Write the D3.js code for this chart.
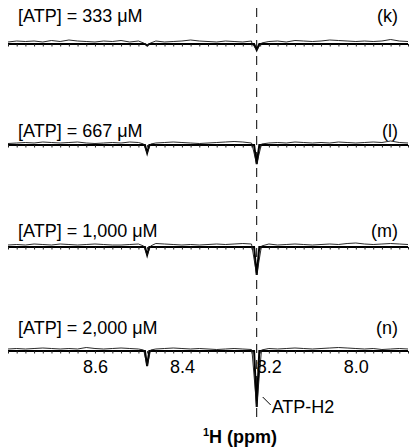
<!DOCTYPE html>
<html><head><meta charset="utf-8">
<script src="https://cdn.jsdelivr.net/npm/d3@7"></script>
<style>
body{margin:0;background:#fff}
svg{display:block}
text{font-family:"Liberation Sans",Arial,Helvetica,sans-serif;fill:#000}
</style>
</head><body>
<svg id="c" width="409" height="448"></svg>
<script>
// ---- data ----
const panelTags = ["(k)", "(l)", "(m)", "(n)"];
const concentrations = ["333", "667", "1,000", "2,000"];
const peakPpm = [8.48, 8.228];            // small peak, ATP-H2
const peakDepthK = [1.5, 6];
const peakDepthL = [8, 19];
const peakDepthM = [8, 28];
const peakDepthN = [15, 56];
const noiseStart = 8.80, noiseStep = 0.02; // sampling grid of the noisy trace
const noiseK = [2,3,2.5,3,2,3.5,2.5,4,3,2.5,2,3,2.5,3.5,2,3,2.5,3,2,2.5,3,4,3,2.5,2,3,2.5,2,3,3.5,2.5,3,2,3.5,3,2.5,3,4,3.5,3,2.5,3,2.5,3,4.5,3,2.5];
const noiseL = [1.5,2,2.5,2,3,2.5,2,2.5,3,2,1.5,2,2.5,2,3,2.5,2,2,2.5,3,2.5,2,1.5,2,2.5,3,3.5,3,2,1.5,2,2.5,2,3,2.5,2,2.5,2,3,2.5,2,2.5,3,2.5,4,2.5,2];
const noiseM = [2,2.5,2,3,2.5,2,3,2.5,2,2.5,3,2.5,2,2,2.5,3,2.5,3.5,3,2.5,2,2.5,2,2.5,3,2.5,3,3.5,3,2.5,3,2,2.5,3,2.5,2,2.5,3,2.5,3.5,4,3,2.5,3,3.5,3,2.5];
const noiseN = [2,2.5,2,2.5,3,2.5,2,2.5,2,3.5,2.5,2,2.5,3,2.5,2,2.5,2,2.5,3,2.5,2,2.5,2,1.5,2,2.5,2,1.5,2,2.5,2,2.5,3,2.5,2,2.5,3,3.5,3,2.5,2,2.5,1.5,2,2.5,2];
const xTickLabels = [8.6, 8.4, 8.2, 8.0];

const panels = [
  {tag: panelTags[0], conc: concentrations[0], noise: noiseK, depth: peakDepthK, base: 44, labelY: 22},
  {tag: panelTags[1], conc: concentrations[1], noise: noiseL, depth: peakDepthL, base: 145, labelY: 137},
  {tag: panelTags[2], conc: concentrations[2], noise: noiseM, depth: peakDepthM, base: 247, labelY: 237},
  {tag: panelTags[3], conc: concentrations[3], noise: noiseN, depth: peakDepthN, base: 351, labelY: 334}
];

// ---- drawing ----
const svg = d3.select("#c");
const x = d3.scaleLinear().domain([8.80, 7.88]).range([8, 408]);
const peakHalfW = [0.008, 0.011];
const basePeakHalfW = [0.005, 0.006];

function trace(noise, depth, halfW, useNoise) {
  let pts = noise.map((v, i) => [noiseStart - i * noiseStep, useNoise ? v : 0]);
  peakPpm.forEach((p, j) => {
    const hw = halfW[j];
    pts = pts.filter(d => Math.abs(d[0] - p) > hw);
    const s = useNoise ? 1 : 0;
    pts.push([p + hw, s], [p, -depth[j]], [p - hw, s]);
  });
  return pts.sort((a, b) => b[0] - a[0]);
}

const minorTicks = d3.range(0, 47).map(i => +(8.80 - i * 0.02).toFixed(2));

panels.forEach((pn, idx) => {
  const y = d3.scaleLinear().domain([-70, 10]).range([pn.base + 70, pn.base - 10]);
  const line = d3.line().x(d => x(d[0])).y(d => y(d[1]));
  const g = svg.append("g");

  // thick baseline trace
  g.append("path")
    .attr("d", line(trace(pn.noise, pn.depth, basePeakHalfW, false)))
    .attr("fill", "none").attr("stroke", "#000").attr("stroke-width", 2)
    .attr("stroke-linejoin", "miter");

  // minor ticks
  const ax = g.append("g").attr("transform", `translate(0,${pn.base})`)
    .call(d3.axisBottom(x).tickValues(minorTicks).tickSize(2.5).tickFormat(""));
  ax.select(".domain").remove();
  ax.selectAll("line").attr("stroke", "#222").attr("stroke-width", 1);

  // noisy trace
  g.append("path")
    .attr("d", line(trace(pn.noise, pn.depth, peakHalfW, true)))
    .attr("fill", "none").attr("stroke", "#111").attr("stroke-width", 0.9);

  // labels
  g.append("text").attr("x", 18).attr("y", pn.labelY).attr("font-size", 18)
    .text(`[ATP] = ${pn.conc} \u03BCM`);
  g.append("text").attr("x", 398).attr("y", pn.labelY).attr("font-size", 18)
    .attr("text-anchor", "end").text(pn.tag);

  if (idx === panels.length - 1) {
    const lab = g.append("g").attr("transform", `translate(0,${pn.base})`)
      .call(d3.axisBottom(x).tickValues(xTickLabels).tickSize(0).tickPadding(9)
        .tickFormat(d3.format(".1f")));
    lab.select(".domain").remove();
    lab.selectAll("text").attr("font-size", 18)
      .attr("font-family", "'Liberation Sans',Arial,sans-serif").attr("fill", "#000");

    // ATP-H2 annotation
    const px = x(peakPpm[1]);
    g.append("line").attr("x1", px + 6).attr("y1", pn.base + 46)
      .attr("x2", px + 14).attr("y2", pn.base + 54)
      .attr("stroke", "#000").attr("stroke-width", 1);
    g.append("text").attr("x", px + 15).attr("y", pn.base + 62).attr("font-size", 18)
      .text("ATP-H2");
  }
});

// dashed reference line at ATP-H2
svg.append("line")
  .attr("x1", x(peakPpm[1])).attr("x2", x(peakPpm[1]))
  .attr("y1", 8).attr("y2", 423)
  .attr("stroke", "#000").attr("stroke-width", 1)
  .attr("stroke-dasharray", "9,7");

// axis title
const title = svg.append("text").attr("x", 240).attr("y", 443)
  .attr("text-anchor", "middle").attr("font-size", 18).attr("font-weight", "bold");
title.append("tspan").attr("font-size", 11).attr("dy", -7).text("1");
title.append("tspan").attr("dy", 7).text("H (ppm)");
</script>
</body></html>
